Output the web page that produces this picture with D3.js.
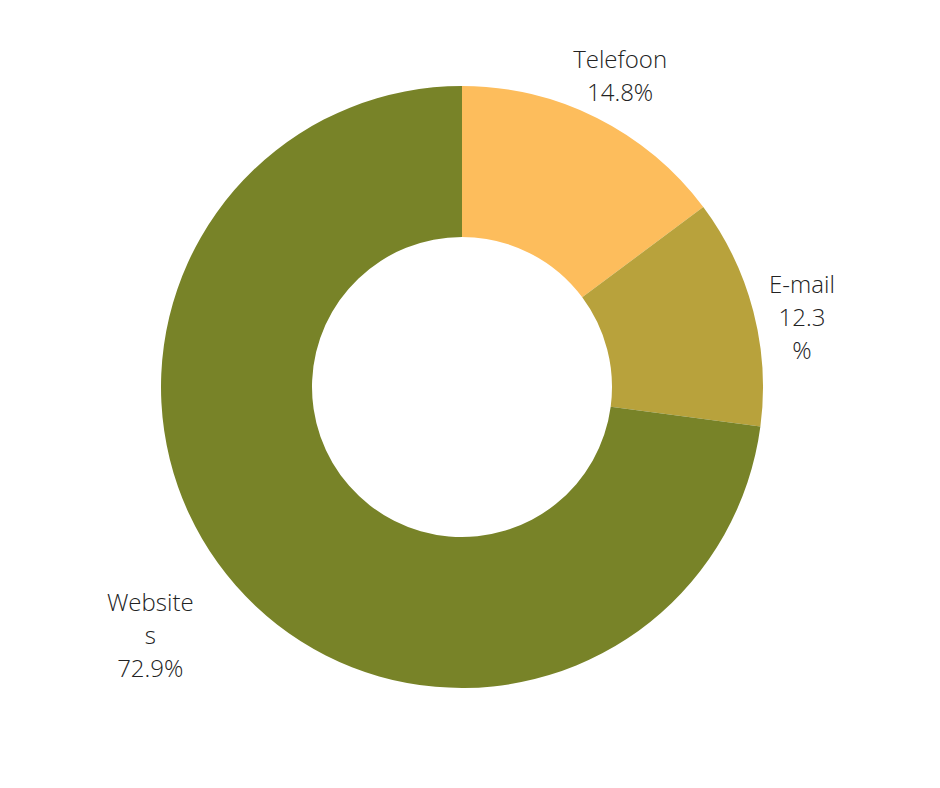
<!DOCTYPE html>
<html>
<head>
<meta charset="utf-8">
<script src="https://cdn.jsdelivr.net/npm/d3@7"></script>
<style>
html,body{margin:0;padding:0;background:#fff;}
svg{display:block;}
text{font-family:"Open Sans",sans-serif;font-weight:300;}
</style>
</head>
<body>
<script>
const categories = ["Telefoon", "E-mail", "Websites"];
const values = [14.8, 12.3, 72.9];
const colors = ["#FDBD5C", "#B8A23C", "#788328"];
const labelLines = [["Telefoon", "14.8%"], ["E-mail", "12.3", "%"], ["Website", "s", "72.9%"]];

const W = 940, H = 788;
const cx = 462, cy = 387, outerR = 301, innerR = 150;

const svg = d3.select("body").append("svg").attr("width", W).attr("height", H);
const g = svg.append("g").attr("transform", `translate(${cx},${cy})`);

const data = categories.map((c, i) => ({cat: c, value: values[i], color: colors[i], lines: labelLines[i]}));
const pie = d3.pie().value(d => d.value).sort(null);
const arcs = pie(data);
const arc = d3.arc().innerRadius(innerR).outerRadius(outerR);

g.selectAll("path.slice").data(arcs).enter().append("path")
  .attr("class", "slice")
  .attr("d", arc)
  .attr("fill", d => d.data.color);

// label placement: radius and small angular nudge per label
const labelR = [349, 347, 399];
const labelDA = [0.3, 3.0, 2.6];
const lineH = 33;
const labels = g.selectAll("g.label").data(arcs).enter().append("g").attr("class", "label")
  .attr("transform", (d, i) => {
    const mid = (d.startAngle + d.endAngle) / 2 + labelDA[i] * Math.PI / 180;
    const r = labelR[i];
    const x = r * Math.sin(mid), y = -r * Math.cos(mid);
    return `translate(${x},${y})`;
  });

labels.each(function(d) {
  const n = d.data.lines.length;
  const t = d3.select(this).append("text")
    .attr("text-anchor", "middle")
    .attr("font-size", 24)
    .attr("fill", "#222");
  d.data.lines.forEach((ln, i) => {
    t.append("tspan").attr("x", 0)
      .attr("y", (i - (n - 1) / 2) * lineH)
      .attr("dy", "0.35em")
      .text(ln);
  });
});
</script>
</body>
</html>
